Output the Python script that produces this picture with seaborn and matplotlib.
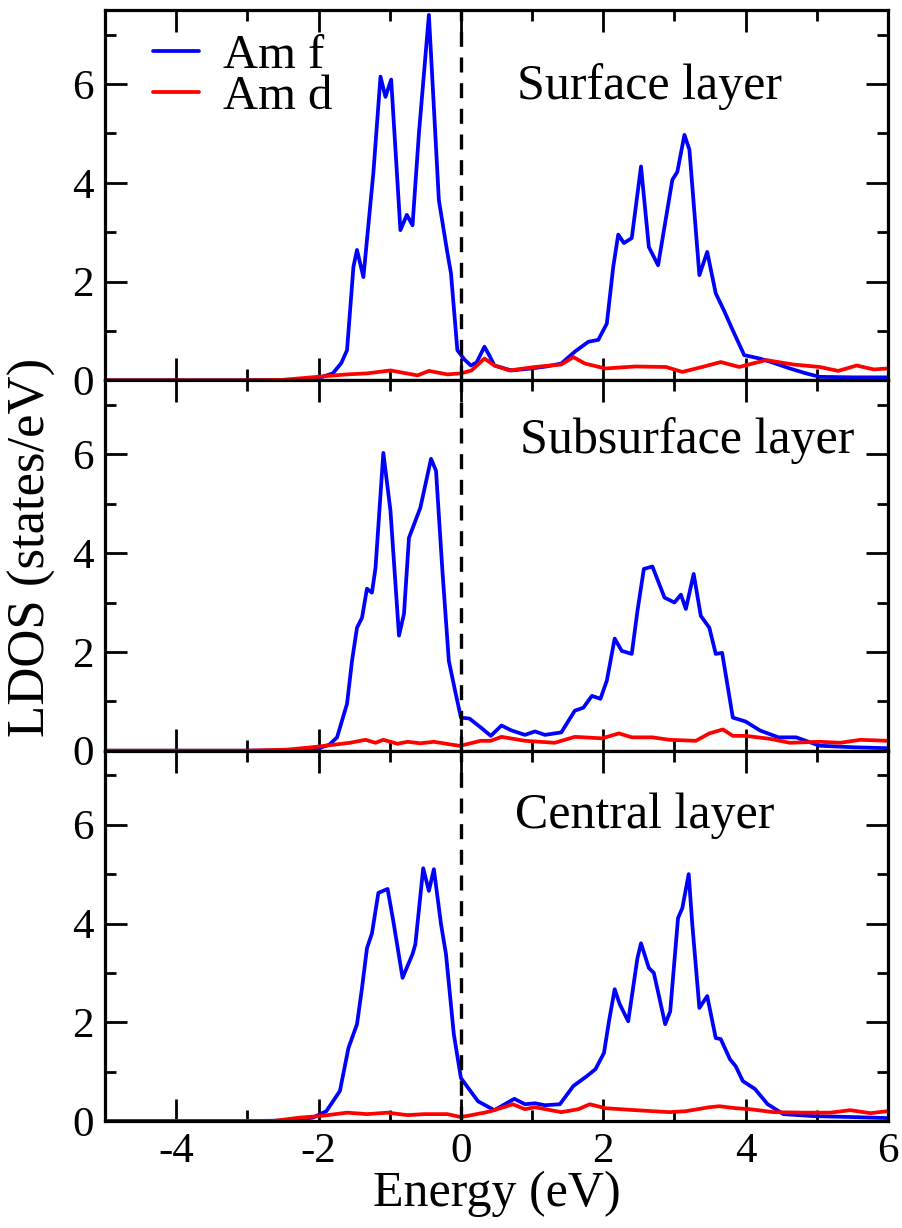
import matplotlib
matplotlib.use('Agg')
from matplotlib import pyplot as plt
from matplotlib.ticker import MultipleLocator
import seaborn as sns

# LDOS of Am f and Am d states for three layers
surf_f_e = [-5.0, -3.0, -2.4, -2.1, -1.95, -1.80, -1.68, -1.60, -1.51, -1.46, -1.37, -1.23,
            -1.13, -1.06, -0.98, -0.85, -0.76, -0.68, -0.59, -0.45, -0.31, -0.19, -0.14,
            -0.05, 0.05, 0.14, 0.22, 0.33, 0.40, 0.47, 0.71, 0.99, 1.20, 1.41, 1.60, 1.79,
            1.93, 2.05, 2.14, 2.21, 2.29, 2.40, 2.53, 2.64, 2.77, 2.97, 3.04, 3.14, 3.21,
            3.35, 3.46, 3.58, 3.70, 3.82, 3.98, 4.20, 4.40, 4.62, 4.85, 5.04, 5.5, 6.0]
surf_f = [0, 0, 0.01, 0.03, 0.07, 0.14, 0.35, 0.61, 2.3, 2.64, 2.09, 4.2,
          6.15, 5.74, 6.09, 3.04, 3.35, 3.14, 5.0, 7.4, 3.65, 2.58, 2.17,
          0.61, 0.42, 0.30, 0.36, 0.68, 0.5, 0.30, 0.2, 0.24, 0.28, 0.34, 0.58, 0.78,
          0.82, 1.15, 2.3, 2.95, 2.78, 2.88, 4.33, 2.7, 2.33, 4.06, 4.22, 4.97, 4.67,
          2.13, 2.6, 1.76, 1.4, 1.01, 0.51, 0.44, 0.35, 0.24, 0.14, 0.07, 0.06, 0.06]
surf_d_e = [-5.0, -3.0, -2.5, -2.02, -1.6, -1.32, -0.99, -0.8, -0.61, -0.45, -0.19, 0.0,
            0.15, 0.33, 0.47, 0.68, 1.04, 1.41, 1.58, 1.74, 2.03, 2.45, 2.88, 3.11, 3.39,
            3.65, 3.91, 4.29, 4.67, 5.04, 5.30, 5.56, 5.80, 6.0]
surf_d = [0, 0, 0.01, 0.07, 0.12, 0.14, 0.2, 0.15, 0.1, 0.19, 0.12, 0.14,
          0.2, 0.44, 0.3, 0.2, 0.27, 0.32, 0.47, 0.34, 0.24, 0.28, 0.27, 0.17, 0.27,
          0.37, 0.27, 0.41, 0.32, 0.27, 0.19, 0.3, 0.22, 0.24]

sub_f_e = [-5.0, -3.0, -2.3, -2.02, -1.85, -1.74, -1.60, -1.53, -1.46, -1.39, -1.32, -1.25,
           -1.20, -1.09, -0.99, -0.87, -0.80, -0.73, -0.57, -0.42, -0.35, -0.26, -0.17,
           -0.08, 0.0, 0.12, 0.27, 0.42, 0.57, 0.71, 0.90, 1.04, 1.18, 1.41, 1.60, 1.72,
           1.84, 1.96, 2.05, 2.16, 2.26, 2.40, 2.48, 2.57, 2.69, 2.86, 3.00, 3.09, 3.16,
           3.27, 3.37, 3.49, 3.58, 3.67, 3.82, 4.00, 4.20, 4.46, 4.71, 5.04, 5.5, 6.0]
sub_f = [0, 0, 0.01, 0.04, 0.12, 0.27, 0.95, 1.82, 2.49, 2.69, 3.28, 3.2,
         3.7, 6.03, 4.86, 2.33, 2.77, 4.31, 4.92, 5.91, 5.67, 3.64, 1.82,
         1.2, 0.67, 0.65, 0.48, 0.30, 0.51, 0.41, 0.32, 0.39, 0.32, 0.37, 0.81, 0.87,
         1.11, 1.05, 1.42, 2.27, 2.02, 1.96, 2.83, 3.68, 3.73, 3.1, 3.0, 3.16, 2.87,
         3.58, 2.73, 2.49, 1.96, 1.98, 0.67, 0.59, 0.41, 0.27, 0.27, 0.10, 0.07, 0.05]
sub_d_e = [-5.0, -3.0, -2.45, -2.02, -1.56, -1.34, -1.20, -1.09, -0.89, -0.75, -0.57, -0.38,
           -0.03, 0.05, 0.28, 0.42, 0.57, 0.90, 1.32, 1.60, 1.98, 2.22, 2.40, 2.69, 2.93,
           3.30, 3.49, 3.68, 3.82, 4.00, 4.34, 4.62, 5.04, 5.33, 5.61, 6.0]
sub_d = [0, 0, 0.02, 0.08, 0.16, 0.22, 0.16, 0.22, 0.14, 0.18, 0.15, 0.18,
         0.1, 0.12, 0.2, 0.2, 0.28, 0.2, 0.16, 0.28, 0.25, 0.35, 0.27, 0.27, 0.22,
         0.2, 0.35, 0.43, 0.3, 0.3, 0.24, 0.16, 0.18, 0.16, 0.22, 0.2]

cen_f_e = [-5.0, -3.0, -2.4, -2.08, -1.89, -1.70, -1.58, -1.46, -1.39, -1.32, -1.25, -1.16,
           -1.03, -0.95, -0.82, -0.68, -0.64, -0.53, -0.45, -0.38, -0.28, -0.21, -0.10,
           0.0, 0.24, 0.47, 0.75, 0.90, 1.04, 1.18, 1.39, 1.58, 1.77, 1.89, 2.01, 2.08,
           2.16, 2.23, 2.35, 2.48, 2.53, 2.64, 2.71, 2.87, 2.94, 3.05, 3.11, 3.20, 3.25,
           3.35, 3.46, 3.58, 3.65, 3.78, 3.86, 3.96, 4.13, 4.31, 4.53, 4.95, 5.52, 6.0]
cen_f = [0, 0, 0.01, 0.07, 0.2, 0.61, 1.48, 1.96, 2.69, 3.5, 3.8, 4.62,
         4.7, 4.05, 2.9, 3.38, 3.58, 5.12, 4.66, 5.1, 3.99, 3.38, 1.76,
         0.87, 0.4, 0.22, 0.45, 0.34, 0.36, 0.32, 0.34, 0.71, 0.91, 1.05, 1.38, 2.02,
         2.67, 2.37, 2.02, 3.3, 3.6, 3.1, 3.0, 1.96, 2.22, 4.11, 4.31, 5.0, 3.99,
         2.29, 2.53, 1.68, 1.66, 1.25, 1.11, 0.81, 0.65, 0.34, 0.14, 0.1, 0.08, 0.06]
cen_d_e = [-5.0, -3.0, -2.65, -2.26, -1.98, -1.60, -1.32, -1.03, -0.75, -0.52, -0.19, 0.0,
           0.33, 0.42, 0.73, 0.90, 1.04, 1.41, 1.65, 1.81, 2.03, 2.45, 2.93, 3.16, 3.49,
           3.63, 3.86, 4.06, 4.39, 4.81, 5.19, 5.47, 5.75, 6.0]
cen_d = [0, 0, 0.0, 0.07, 0.1, 0.17, 0.14, 0.17, 0.12, 0.14, 0.14, 0.08,
         0.17, 0.2, 0.34, 0.24, 0.28, 0.18, 0.24, 0.34, 0.26, 0.22, 0.18, 0.2, 0.28,
         0.3, 0.26, 0.24, 0.18, 0.17, 0.17, 0.22, 0.16, 0.2]

layer_names = ['Surface layer', 'Subsurface layer', 'Central layer']
series_names = ['Am f', 'Am d']
x_ticks = [-4, -2, 0, 2, 4, 6]
y_ticks = [0, 2, 4, 6]

panels = [
    (surf_f_e, surf_f, surf_d_e, surf_d),
    (sub_f_e, sub_f, sub_d_e, sub_d),
    (cen_f_e, cen_f, cen_d_e, cen_d),
]
label_pos = [(0.526, 0.76), (0.53, 0.805), (0.524, 0.79)]

sns.set_theme(style='ticks')
plt.rcParams['font.family'] = ['Liberation Serif', 'DejaVu Serif']
plt.rcParams['axes.unicode_minus'] = False
for key in ['text.color', 'axes.labelcolor', 'xtick.color', 'ytick.color',
            'xtick.labelcolor', 'ytick.labelcolor']:
    plt.rcParams[key] = 'black'

fig, axes = plt.subplots(3, 1, figsize=(9.03, 12.28), dpi=100, sharex=True)
fig.subplots_adjust(left=0.1163, right=0.9834, top=0.9919, bottom=0.0871, hspace=0)

for i, (ax, (fe, f, de, d)) in enumerate(zip(axes, panels)):
    sns.lineplot(x=fe, y=f, ax=ax, color='#0000ff', lw=2.7, sort=False,
                 label=series_names[0] if i == 0 else None)
    sns.lineplot(x=de, y=d, ax=ax, color='#ff0000', lw=2.7, sort=False,
                 label=series_names[1] if i == 0 else None)
    ax.axvline(0, color='black', lw=2.4, ls=(0, (4.5, 3.2)))
    ax.set_xlim(-5, 6)
    ax.set_ylim(0, 7.5)
    ax.set_xticks(x_ticks)
    ax.set_yticks(y_ticks)
    ax.xaxis.set_minor_locator(MultipleLocator(1))
    ax.yaxis.set_minor_locator(MultipleLocator(1))
    ax.tick_params(which='both', direction='in', top=True, right=True,
                   width=2.0, labelsize=31, pad=8, color='black')
    ax.tick_params(which='major', length=16)
    ax.tick_params(which='minor', length=8)
    for sp in ax.spines.values():
        sp.set_linewidth(2.3)
        sp.set_color('black')
    ax.set_xlabel('')
    ax.set_ylabel('')
    ax.text(*label_pos[i], layer_names[i], transform=ax.transAxes,
            fontsize=36, va='baseline', ha='left', color='black')

leg = axes[0].legend(loc='upper left', bbox_to_anchor=(0.03, 1.0), frameon=False,
                     fontsize=35, handlelength=0.95, handletextpad=0.5,
                     labelspacing=-0.07, borderaxespad=0.1)
for line in leg.get_lines():
    line.set_linewidth(2.7)

axes[2].set_xlabel('Energy (eV)', fontsize=36, labelpad=0, color='black')
fig.text(0.035, 0.554, 'LDOS (states/eV)', rotation=90, fontsize=38,
         ha='center', va='center', color='black')

fig.savefig('out.png', dpi=100)
